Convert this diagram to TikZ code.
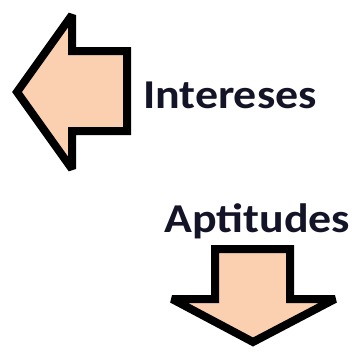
\documentclass[tikz,border=0pt]{standalone}
\usepackage{fontspec}
\setmainfont{Carlito}
\definecolor{peach}{HTML}{FAD0B0}
\definecolor{lbl}{HTML}{141428}
\tikzset{
  bigarrow/.style={draw=black, fill=peach, line width=8pt, line join=miter, miter limit=3},
  lbltext/.style={font=\fontsize{41}{41}\selectfont\bfseries, text=lbl, inner sep=0pt, anchor=base west}
}
\begin{document}
\begin{tikzpicture}[x=1pt,y=-1pt]
\useasboundingbox (0,0) rectangle (351,356);
\draw[bigarrow] (17,92) -- (72,15) -- (72,51) -- (127,51) -- (127,131) -- (72,131) -- (72,169) -- cycle;
\draw[bigarrow] (215,249) -- (290,249) -- (290,299) -- (335,299) -- (253,342) -- (172,299) -- (215,299) -- cycle;
\node[lbltext] (int) at (143,108) {\scalebox{1.12}[1]{Intereses}};
\node[lbltext] (apt) at (164,232) {\scalebox{1.12}[1]{Aptitudes}};
\end{tikzpicture}
\end{document}
